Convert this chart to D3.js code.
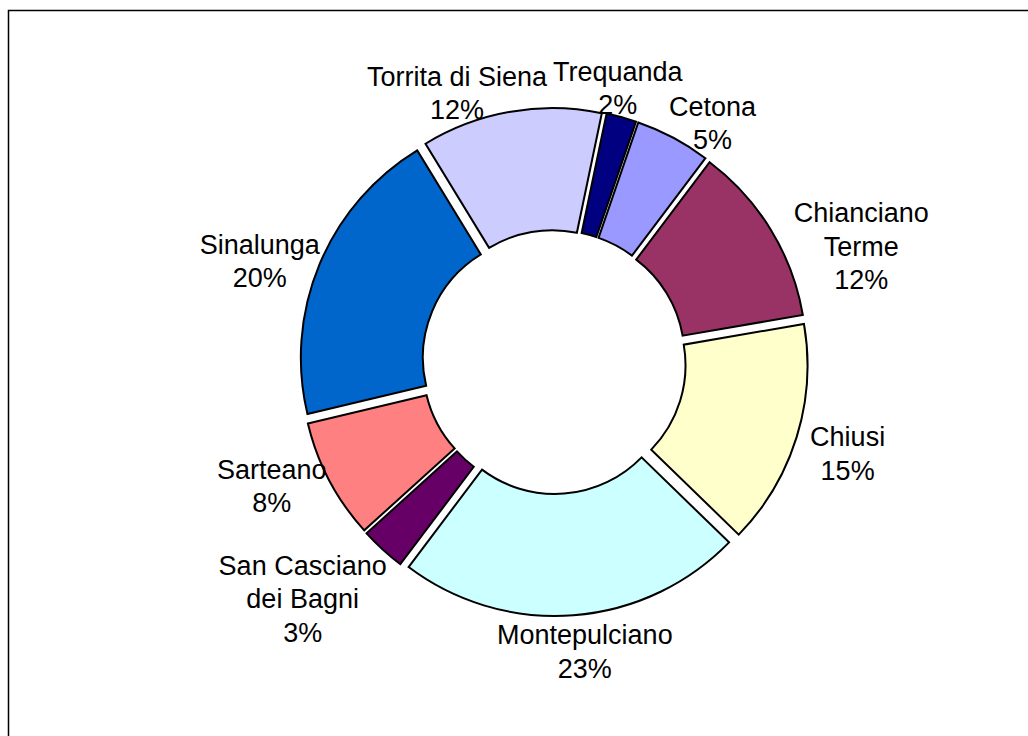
<!DOCTYPE html>
<html>
<head>
<meta charset="utf-8">
<script src="https://cdn.jsdelivr.net/npm/d3@7"></script>
<style>
  body { margin: 0; background: #fff; }
  text { font-family: "Liberation Sans", Arial, sans-serif; font-size: 27px; fill: #000; }
</style>
</head>
<body>
<div id="chart"></div>
<script>
// data (clockwise from the first slice)
const towns = ["Cetona", "Chianciano Terme", "Chiusi", "Montepulciano", "San Casciano dei Bagni",
               "Sarteano", "Sinalunga", "Torrita di Siena", "Trequanda"];
const labelLines = [["Cetona"], ["Chianciano", "Terme"], ["Chiusi"], ["Montepulciano"], ["San Casciano", "dei Bagni"],
                    ["Sarteano"], ["Sinalunga"], ["Torrita di Siena"], ["Trequanda"]];
const shares = [5, 12, 15, 23, 3, 8, 20, 12, 2];
const colors = ["#9999FF", "#993366", "#FFFFCC", "#CCFFFF", "#660066", "#FF8080", "#0066CC", "#CCCCFF", "#000080"];

// small hand moves of the labels, like the original layout
const labelNudge = [[15, 23], [26, 48], [7.5, 5], [4, -4], [-18, 7], [-2, -13], [3, 13.5], [-37, 23], [-23, 12]];

const width = 1028, height = 736;
const cx = 554, cy = 362;
const outerR = 243, innerR = 121, explode = 11;
const firstAngle = 19 * Math.PI / 180;

const svg = d3.select("#chart").append("svg")
    .attr("width", width)
    .attr("height", height);

// chart frame
svg.append("path")
    .attr("d", `M8.5,${height + 10}V10.5H${width + 10}`)
    .attr("fill", "none")
    .attr("stroke", "#000")
    .attr("stroke-width", 1.5);

const pie = d3.pie()
    .sort(null)
    .startAngle(firstAngle)
    .endAngle(firstAngle + 2 * Math.PI);

const arcs = pie(shares);

const arc = d3.arc()
    .innerRadius(innerR)
    .outerRadius(outerR);

const g = svg.append("g")
    .attr("transform", "translate(" + cx + ", " + cy + ")");

const midAngle = d => (d.startAngle + d.endAngle) / 2;

// slices, pulled out along their middle
g.selectAll("path.slice")
    .data(arcs)
    .enter()
    .append("path")
    .attr("class", "slice")
    .attr("transform", d => {
        const a = midAngle(d);
        return "translate(" + explode * Math.sin(a) + ", " + (-explode * Math.cos(a)) + ")";
    })
    .attr("d", arc)
    .attr("fill", (d, i) => colors[i])
    .attr("stroke", "#000")
    .attr("stroke-width", 2);

// labels outside each slice
const labelR = 262, lineH = 33.5;
arcs.forEach((d, i) => {
    const a = midAngle(d);
    const lines = labelLines[i].concat([shares[i] + "%"]);
    const t = g.append("text").attr("text-anchor", "middle");
    lines.forEach((s, k) => {
        t.append("tspan").attr("x", 0).attr("dy", k ? lineH : 0).text(s);
    });
    const w = d3.max(t.selectAll("tspan").nodes(), n => n.getComputedTextLength());
    const h = lines.length * lineH;
    const x = labelR * Math.sin(a) + Math.sin(a) * w / 2 + labelNudge[i][0];
    const y = -labelR * Math.cos(a) - Math.cos(a) * h / 2 + labelNudge[i][1];
    t.attr("transform", "translate(" + x + ", " + (y - (lines.length - 1) * lineH / 2 + 8.5) + ")");
});
</script>
</body>
</html>
